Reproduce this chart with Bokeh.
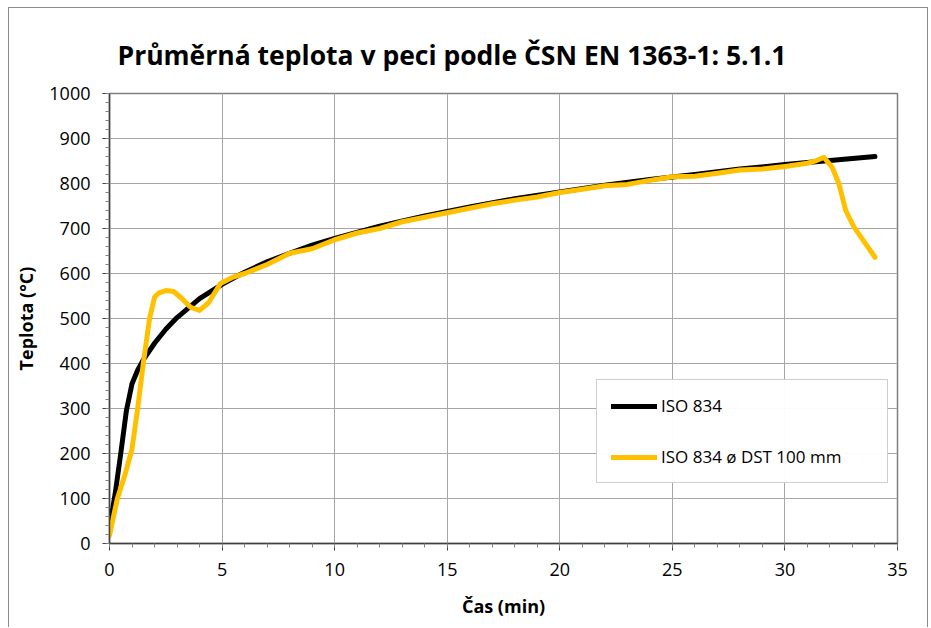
from bokeh.plotting import figure
from bokeh.models import Range1d, Legend, LegendItem, FixedTicker
from bokeh.embed import file_html
from bokeh.resources import INLINE

# ISO 834 standard curve
iso_t = [0, 0.25, 0.5, 0.75, 1, 1.25, 1.5, 2, 2.5, 3, 4, 5, 6, 7, 8, 9, 10, 12, 14, 16, 18,
         20, 22, 24, 26, 28, 30, 32, 34]
iso_temp = [35, 110, 200, 295, 355, 385, 408, 445, 476, 502, 544, 576, 603, 626, 645, 663, 678,
            705, 728, 748, 766, 781, 796, 809, 820, 832, 842, 851, 860]

# ISO 834 ø DST 100 mm
dst_t = [0, 0.35, 0.7, 1.0, 1.25, 1.5, 1.78, 2.0, 2.2, 2.5, 2.85, 3.2, 3.6, 4.0, 4.4, 4.93, 5.5,
         6, 7, 8, 9, 10, 11, 12, 13, 14, 15, 16, 17, 18, 19, 20, 21, 22, 23, 24, 25, 26,
         27, 28, 29, 30, 31, 31.4, 31.73, 32.1, 32.4, 32.7, 33.07, 33.5, 34]
dst_temp = [18, 100, 155, 210, 300, 400, 500, 547, 557, 562, 560, 545, 525, 518, 535, 578, 592,
            600, 620, 645, 655, 675, 690, 700, 715, 725, 735, 745, 755, 763, 770, 780, 787,
            795, 798, 807, 815, 816, 823, 830, 832, 838, 845, 851, 858, 836, 799, 740, 703,
            672, 636]

title_text = "Průměrná teplota v peci podle ČSN EN 1363-1: 5.1.1"
x_label = "Čas (min)"
y_label = "Teplota (°C)"
x_ticks = [0, 5, 10, 15, 20, 25, 30, 35]
y_ticks = [0, 100, 200, 300, 400, 500, 600, 700, 800, 900, 1000]
series_names = ["ISO 834", "ISO 834 ø DST 100 mm"]

FONT = "Open Sans"

p = figure(width=920, height=620, output_backend="svg", toolbar_location=None,
           x_range=Range1d(0, 35), y_range=Range1d(0, 1000),
           min_border_left=100, min_border_right=32, min_border_top=85,
           min_border_bottom=85)
p.styles = {"border-top": "1px solid #8c8c8c", "border-left": "1px solid #8c8c8c",
            "border-right": "1px solid #8c8c8c", "margin-left": "8px", "margin-top": "7px"}

p.title.text = title_text
p.title.text_font = FONT
p.title.text_font_size = "26.5px"
p.title.text_font_style = "bold"
p.title.align = "left"
p.title.offset = 8
p.title.text_color = "#000000"
p.title.standoff = 41

p.outline_line_color = "#7f7f7f"
p.outline_line_width = 1.5

p.xaxis.ticker = FixedTicker(ticks=x_ticks, minor_ticks=list(range(0, 36)))
p.yaxis.ticker = FixedTicker(ticks=y_ticks, minor_ticks=list(range(0, 1001, 20)))

for ax in (p.xaxis[0], p.yaxis[0]):
    ax.major_label_text_font = FONT
    ax.major_label_text_font_size = "18px"
    ax.major_label_text_color = "#000000"
    ax.axis_label_text_font = FONT
    ax.axis_label_text_font_size = "18px"
    ax.axis_label_text_font_style = "bold"
    ax.axis_label_text_color = "#000000"
    ax.axis_line_color = "#404040"
    ax.axis_line_width = 1.5
    ax.major_tick_line_color = "#404040"
    ax.minor_tick_line_color = "#808080"
    ax.major_tick_out = 7
    ax.major_tick_in = 0
    ax.minor_tick_out = 4
    ax.minor_tick_in = 0

p.xaxis.axis_label = x_label
p.yaxis.axis_label = y_label
p.xaxis.major_label_standoff = 12
p.yaxis.major_label_standoff = 12
p.xaxis.axis_label_standoff = 15
p.yaxis.axis_label_standoff = 8

p.xgrid.ticker = FixedTicker(ticks=x_ticks)
p.ygrid.ticker = FixedTicker(ticks=y_ticks)
p.grid.grid_line_color = "#a6a6a6"
p.grid.grid_line_width = 1

r1 = p.line(iso_t, iso_temp, line_color="#000000", line_width=5, line_join="round",
            line_cap="round")
r2 = p.line(dst_t, dst_temp, line_color="#FFC000", line_width=5, line_join="round",
            line_cap="round")

legend = Legend(items=[LegendItem(label=series_names[0], renderers=[r1]),
                       LegendItem(label=series_names[1], renderers=[r2])],
                location=(487, 60))
legend.label_text_font = FONT
legend.label_text_font_size = "17px"
legend.label_text_color = "#000000"
legend.border_line_color = "#a0a0a0"
legend.border_line_width = 1
legend.glyph_width = 46
legend.label_standoff = 4
legend.spacing = 28
legend.padding = 14
legend.margin = 0
legend.label_width = 212
p.add_layout(legend, "center")

open("out.html", "w").write(file_html(p, INLINE))
